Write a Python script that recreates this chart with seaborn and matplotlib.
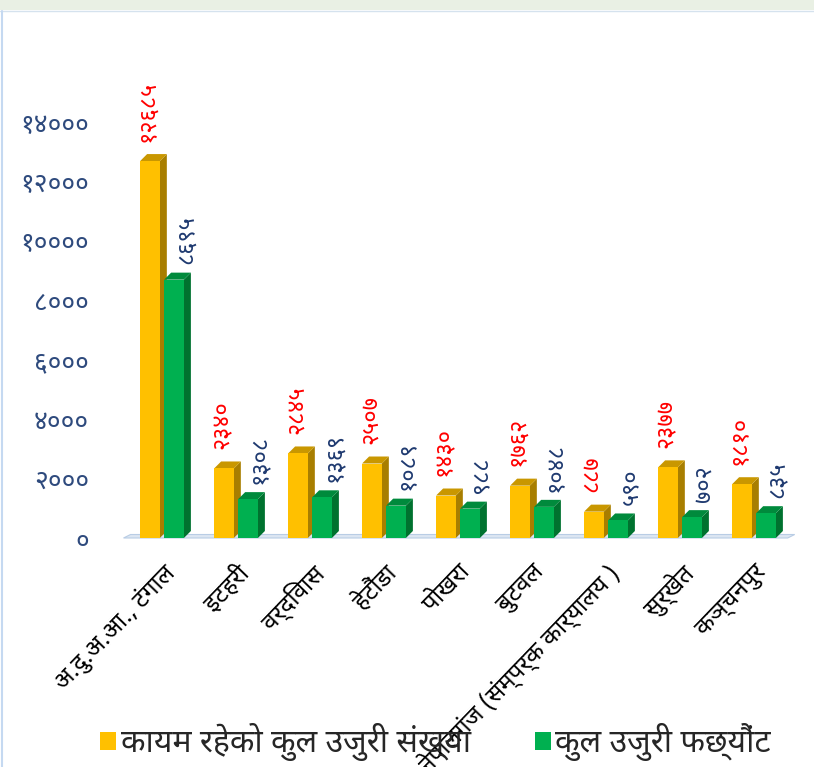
import matplotlib
matplotlib.use("Agg")
import matplotlib.pyplot as plt
from matplotlib import font_manager as fm
from matplotlib.patches import Polygon, Patch, Rectangle
import seaborn as sns
import pandas as pd

# ---------------- data ----------------
categories = ['अ.दु.अ.आ., टंगाल', 'इटहरी', 'वर्दिवास', 'हेटौंडा', 'पोखरा',
              'बुटवल', 'नेपालगंज (संम्पर्क कार्यालय )', 'सुर्खेत', 'कञ्चनपुर']
series_names = ['कायम रहेको कुल उजुरी संख्या', 'कुल उजुरी फछ्यौंट']
pending_total = [12685, 2340, 2845, 2507, 1430, 1762, 887, 2377, 1810]
settled_total = [8695, 1308, 1369, 1089, 988, 1048, 590, 702, 835]
y_ticks = [0, 2000, 4000, 6000, 8000, 10000, 12000, 14000]

# ---------------- fonts ----------------
names = {f.name for f in fm.fontManager.ttflist}
deva = None
for cand in ['Noto Sans Devanagari', 'Mukta', 'Hind', 'Poppins', 'Noto Serif Devanagari', 'Sarala']:
    if cand in names:
        deva = cand
        break
sns.set_theme(style='white')
fam = [deva, 'DejaVu Sans'] if deva else ['DejaVu Sans']
plt.rcParams['font.family'] = fam

DIG = str.maketrans('0123456789', '०१२३४५६७८९')
def dev(n):
    return str(n).translate(DIG)

df = pd.DataFrame({
    'cat': categories * 2,
    'series': [series_names[0]] * len(categories) + [series_names[1]] * len(categories),
    'value': pending_total + settled_total,
})

W, H = 814, 767
fig = plt.figure(figsize=(W / 100, H / 100), dpi=100)
ax_left, ax_bottom = 125 / W, 1 - 538 / H
ax_w, ax_h = 666 / W, (538 - 122) / H
ax = fig.add_axes([ax_left, ax_bottom, ax_w, ax_h])

front = {series_names[0]: '#FFC000', series_names[1]: '#00B050'}
side = {series_names[0]: '#A87E00', series_names[1]: '#00722F'}
top = {series_names[0]: '#C99700', series_names[1]: '#008A3C'}

sns.barplot(data=df, x='cat', y='value', hue='series', palette=front,
            width=0.65, gap=0.18, dodge=True, ax=ax, legend=False,
            saturation=1, linewidth=0, errorbar=None)

ax.set_xlim(-0.5, len(categories) - 0.5)
ax.set_ylim(0, 14000)

# 3D depth in data units (7 px)
px_x = ax_w * W / len(categories)
px_y = ax_h * H / 14000
dx = 7 / px_x
dy = 7 / px_y

bars = [p for p in ax.patches if isinstance(p, Rectangle) and p.get_height() > 0]
n = len(categories)
for i, p in enumerate(bars):
    s = series_names[0] if i < n else series_names[1]
    x, w, h = p.get_x(), p.get_width(), p.get_height()
    z = 3 if i < n else 5
    p.set_zorder(z)
    ax.add_patch(Polygon([(x + w, 0), (x + w + dx, dy), (x + w + dx, h + dy), (x + w, h)],
                         closed=True, facecolor=side[s], edgecolor='none', zorder=z - 0.5))
    ax.add_patch(Polygon([(x, h), (x + dx, h + dy), (x + w + dx, h + dy), (x + w, h)],
                         closed=True, facecolor=top[s], edgecolor='none', zorder=z - 0.5))
    if i < n:
        ax.annotate(dev(int(h)), (x + w / 2, h + dy), xytext=(-1, 9), textcoords='offset points',
                    rotation=90, ha='center', va='bottom', color='#FF0000', fontsize=17,
                    annotation_clip=False)
    else:
        ax.annotate(dev(int(h)), (x + w / 2, h + dy), xytext=(9, 6), textcoords='offset points',
                    rotation=90, ha='center', va='bottom', color='#1F3A70', fontsize=17,
                    annotation_clip=False)

# floor
ax.add_patch(Polygon([(-0.52, 0), (-0.52 + dx, dy * 0.5), (n - 0.45, dy * 0.5), (n - 0.45 - dx, 0)],
                     closed=True, facecolor='#DCE6F2', edgecolor='#B9CDE5', lw=0.8, zorder=1,
                     clip_on=False))

for sp in ax.spines.values():
    sp.set_visible(False)
ax.set_yticks(y_ticks)
ax.set_yticklabels([dev(t) for t in y_ticks], color='#2E4A7D', fontsize=19)
ax.tick_params(axis='y', length=0, pad=26)
ax.tick_params(axis='x', length=0, pad=16)
ax.set_xticks(range(n))
ax.set_xticklabels(categories, rotation=46, ha='right', rotation_mode='anchor',
                   fontsize=17.5, color='black')
ax.set_xlabel('')
ax.set_ylabel('')
ax.grid(False)

# page decorations
fig.patches.append(Rectangle((0, 1 - 10 / H), 1, 10 / H, transform=fig.transFigure,
                             facecolor='#E9F0E4', edgecolor='none', zorder=0))
fig.lines.append(plt.Line2D([0, 1], [1 - 11 / H, 1 - 11 / H], transform=fig.transFigure,
                            color='#D5E2EE', lw=1))
fig.lines.append(plt.Line2D([2 / W, 2 / W], [0, 1 - 11 / H], transform=fig.transFigure,
                            color='#C5D9F1', lw=1.5))

handles = [Patch(facecolor=front[s], edgecolor='none') for s in series_names]
fig.legend(handles, series_names, loc='lower center', bbox_to_anchor=(0.535, -0.03),
           ncol=2, frameon=False, fontsize=23, handlelength=0.5, handleheight=0.5,
           handletextpad=0.15, columnspacing=2.0)

fig.savefig('out.png', dpi=100)
